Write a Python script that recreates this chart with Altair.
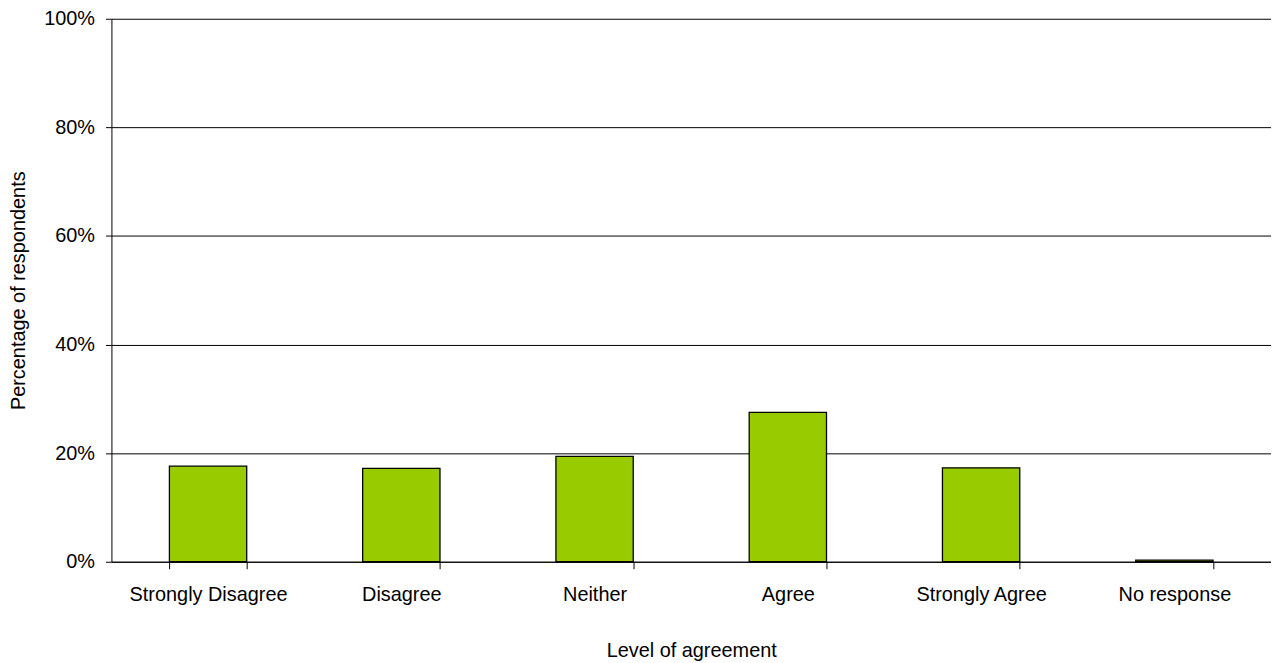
import altair as alt
import pandas as pd

categories = ["Strongly Disagree", "Disagree", "Neither", "Agree", "Strongly  Agree", "No response"]
percentages = [17.6, 17.2, 19.4, 27.5, 17.3, 0.3]

df = pd.DataFrame({"level": categories, "pct": [p / 100 for p in percentages]})

FONT = "Liberation Sans"

chart = alt.Chart(df).mark_bar(
    color="#99CC00", stroke="black", strokeWidth=1.3
).encode(
    x=alt.X(
        "level:N",
        sort=categories,
        title="Level of agreement",
        scale=alt.Scale(paddingInner=0.6, paddingOuter=0.3),
        axis=alt.Axis(
            labelAngle=0,
            tickBand="extent",
            tickSize=7,
            tickColor="black",
            domainColor="black",
            labelFontSize=20,
            labelPadding=16,
            titleFontSize=20,
            titleFontWeight="normal",
            titlePadding=36,
            labelFont=FONT,
            titleFont=FONT,
            labelColor="black",
            titleColor="black",
            grid=False,
        ),
    ),
    y=alt.Y(
        "pct:Q",
        title="Percentage of respondents",
        scale=alt.Scale(domain=[0, 1], nice=False),
        axis=alt.Axis(
            format=".0%",
            values=[0, 0.2, 0.4, 0.6, 0.8, 1.0],
            tickSize=6,
            tickColor="black",
            domainColor="black",
            gridColor="black",
            gridWidth=1,
            labelFontSize=20,
            labelPadding=11,
            titleFontSize=20,
            titleFontWeight="normal",
            titlePadding=15,
            labelFont=FONT,
            titleFont=FONT,
            labelColor="black",
            titleColor="black",
        ),
    ),
).properties(
    width=1166,
    height=546,
    autosize=alt.AutoSizeParams(type="none"),
    padding={"left": 104, "top": 9, "right": 0, "bottom": 100},
).configure_view(stroke=None).configure_axis(domainWidth=1, tickWidth=1)

chart.save("out.html", embed_options={"renderer": "svg", "actions": False})
